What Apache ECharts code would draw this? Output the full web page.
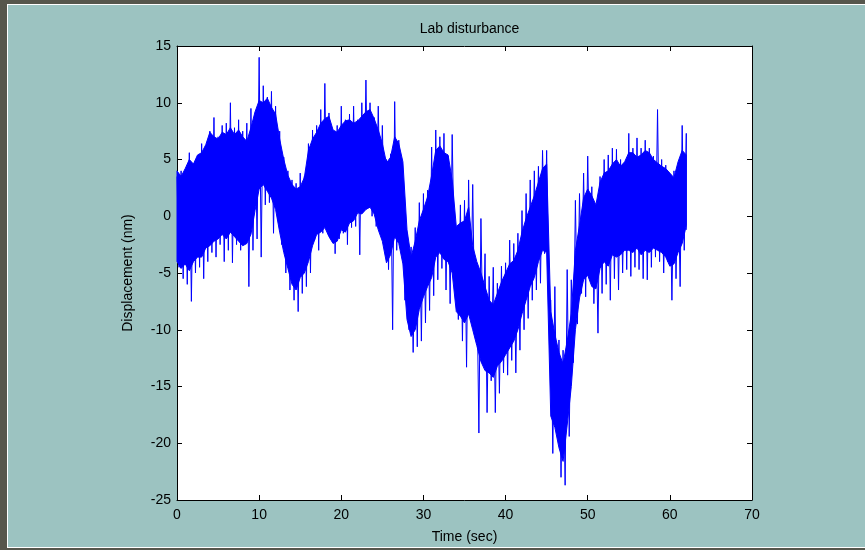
<!DOCTYPE html>
<html><head><meta charset="utf-8">
<script src="https://cdn.jsdelivr.net/npm/echarts@6/dist/echarts.min.js"></script>
<style>
body{margin:0;background:#56564c;}
#c{position:absolute;left:0;top:0;width:865px;height:550px;background:#9cc3c1;}
.f{position:absolute;z-index:5;}
</style></head><body>
<div id="c"></div>
<div class="f" style="left:0;top:0;width:865px;height:4px;background:#56564c"></div>
<div class="f" style="left:7px;top:4px;width:858px;height:1px;background:#ffffff"></div>
<div class="f" style="left:0;top:0;width:7px;height:550px;background:#56564c"></div>
<div class="f" style="left:7px;top:4px;width:1px;height:544px;background:#ffffff"></div>
<div class="f" style="left:7px;top:547px;width:858px;height:1px;background:#ffffff"></div>
<div class="f" style="left:0;top:548px;width:865px;height:2px;background:#56564c"></div>
<script>
const title = 'Lab disturbance';
const xName = 'Time (sec)';
const yName = 'Displacement (nm)';
const xTicks = [0,10,20,30,40,50,60,70];
const yTicks = [-25,-20,-15,-10,-5,0,5,10,15];
// sample times (sec)
const times = [0,0.5,1,1.5,2,2.5,3,3.5,4,4.5,5,5.5,6,6.5,7,7.5,8,8.5,9,9.5,10,10.5,11,11.5,12,12.5,13,13.5,14,14.5,15,15.5,16,16.5,17,17.5,18,18.5,19,19.5,20,20.5,21,21.5,22,22.5,23,23.5,24,24.5,25,25.5,26,26.5,27,27.5,28,28.5,29,29.5,30,30.5,31,31.5,32,32.5,33,33.5,34,34.5,35,35.5,36,36.5,37,37.5,38,38.5,39,39.5,40,40.5,41,41.5,42,42.5,43,43.5,44,44.5,45,45.5,46,46.5,47,47.5,48,48.5,49,49.5,50,50.5,51,51.5,52,52.5,53,53.5,54,54.5,55,55.5,56,56.5,57,57.5,58,58.5,59,59.5,60,60.5,61,61.5,62];
// outer spikes: highest / lowest swing near each time
const upper = [3.5,4.0,3.2,5.6,4.5,5.0,6.4,5.5,7.5,8.7,7.0,8.0,8.2,10.0,7.8,8.5,7.5,8.2,9.5,8.0,14.0,11.5,10.5,11.0,9.7,7.5,5.2,4.0,3.2,2.9,3.8,3.5,6.4,7.6,8.0,9.4,11.7,9.1,7.0,8.0,9.7,8.5,9.0,9.7,8.5,10.0,12.0,10.0,8.7,9.7,8.0,5.0,5.5,10.1,6.7,0.8,-1.5,-2.7,-1.0,1.2,2.0,2.3,6.1,7.6,7.0,7.3,5.3,7.2,-1.5,1.0,1.4,3.2,2.8,-5.0,-0.2,-3.3,-5.3,-4.5,-5.9,-4.4,-4.1,-2.1,-2.4,-1.5,0.5,2.0,3.2,4.0,4.4,5.8,5.8,-7.4,-6.2,-10.9,-11.8,-4.7,-5.6,1.4,2.0,3.8,5.3,2.6,0.0,3.5,5.0,5.4,6.0,5.9,5.0,4.7,7.3,6.0,6.9,6.0,6.7,6.0,5.3,9.4,5.0,4.5,3.2,4.0,3.8,8.0,7.3];
const lower = [-4.5,-5.5,-6.0,-7.5,-5.0,-4.5,-5.5,-4.0,-3.2,-3.6,-2.5,-4.0,-3.0,-4.1,-2.5,-3.0,-2.0,-6.2,-3.0,-2.0,-3.6,1.0,1.2,-1.5,-0.3,-2.5,-5.0,-6.5,-7.4,-8.4,-6.8,-6.2,-5.0,-2.1,-3.0,-1.5,-0.9,-2.0,-3.3,-2.0,-1.5,-2.5,-1.0,-0.9,-3.4,0.5,0.8,0.0,-0.9,0.3,-1.0,-4.7,-10.0,-3.0,-2.1,-7.4,-10.0,-12.0,-11.5,-11.0,-9.4,-8.3,-7.0,-5.6,-4.6,-6.5,-7.7,-3.3,-9.1,-11.0,-13.3,-8.9,-10.0,-19.1,-11.2,-17.3,-14.5,-17.3,-15.6,-13.8,-14.0,-12.7,-13.8,-11.8,-10.0,-9.0,-7.4,-6.5,-5.9,-3.3,-7.0,-20.9,-19.1,-23.0,-23.7,-19.4,-12.9,-9.5,-6.8,-7.1,-4.7,-7.7,-10.3,-6.8,-6.0,-7.4,-5.5,-6.5,-5.0,-4.7,-5.3,-4.5,-4.7,-5.5,-5.6,-4.5,-3.6,-4.0,-5.0,-4.0,-7.4,-5.5,-6.2,-3.0,-1.2];
// dense solid core of the signal: its top and bottom edge near each time
const coreTop = [4.0,3.5,4.2,5.0,4.6,5.4,5.6,6.3,7.4,7.0,6.8,7.4,7.2,7.8,7.2,7.6,7.0,6.6,7.8,9.2,10.2,10.0,10.4,9.6,9.0,6.8,5.0,3.6,2.8,2.4,2.6,3.4,5.8,6.8,7.4,8.2,8.6,8.8,7.6,7.4,8.0,8.4,8.5,8.2,8.4,8.8,9.2,9.4,8.6,7.6,6.4,4.7,5.2,7.0,6.4,4.8,-1.2,-3.6,-2.2,-0.4,0.6,1.7,3.6,5.8,6.2,5.6,5.4,3.2,-0.9,-0.6,-0.4,0.8,-2.6,-4.0,-5.0,-6.2,-7.4,-7.8,-6.8,-5.8,-5.0,-4.2,-3.9,-3.0,-1.4,-0.2,0.8,1.8,3.0,4.2,4.6,-8.4,-10.4,-12.0,-13.0,-11.0,-8.6,-3.0,-0.8,1.6,2.4,1.8,1.0,3.0,3.8,4.0,4.6,5.0,4.4,4.8,5.6,5.6,5.2,5.4,5.8,5.6,5.0,4.7,4.4,4.2,3.8,3.4,4.8,5.8,5.4];
const coreBottom = [-4.0,-4.6,-4.2,-4.8,-4.0,-3.6,-3.6,-2.8,-2.6,-2.2,-2.0,-1.6,-2.0,-1.4,-1.8,-2.2,-2.6,-2.4,-1.6,0.5,2.4,2.8,2.2,1.6,0.6,-1.4,-3.2,-4.6,-6.0,-6.5,-5.4,-5.0,-4.0,-2.6,-1.6,-1.4,-1.0,-1.8,-2.4,-2.2,-1.2,-1.4,-0.6,-0.4,0.3,0.2,0.6,0.8,0.2,-1.2,-2.2,-4.1,-3.4,-1.8,-2.4,-4.2,-9.1,-10.6,-10.0,-8.2,-7.1,-6.2,-5.4,-3.6,-3.2,-3.8,-4.0,-5.0,-8.4,-8.8,-9.4,-8.6,-10.0,-11.4,-12.8,-13.6,-13.8,-14.2,-13.2,-12.8,-12.2,-11.6,-11.0,-10.0,-8.6,-7.4,-6.2,-5.4,-4.0,-3.0,-3.2,-17.6,-18.6,-20.4,-21.6,-18.4,-15.0,-10.0,-7.2,-5.6,-5.2,-6.2,-6.4,-4.6,-4.0,-4.4,-3.4,-3.6,-3.4,-3.0,-3.0,-3.2,-2.8,-3.4,-3.0,-3.2,-2.8,-3.0,-3.2,-3.6,-4.4,-4.2,-3.2,-2.4,-0.8];

const spikes = [];
for (let i = 0; i < times.length; i++) {
  spikes.push([times[i], upper[i]]);
  if (i < times.length - 1) spikes.push([times[i] + 0.25, lower[i]]);
  else spikes.push([times[i], lower[i]]);
}
const core = times.map((t, i) => [t, coreTop[i], coreBottom[i]]);

const font = 'Liberation Sans, Arial, sans-serif';
const chart = echarts.init(document.getElementById('c'));
function axisBase() {
  return {
    axisLine: {show: true, onZero: false, lineStyle: {color: '#000', width: 1}},
    axisTick: {show: true, inside: true, length: 5, lineStyle: {color: '#000'}},
    splitLine: {show: false}
  };
}
chart.setOption({
  animation: false,
  backgroundColor: 'transparent',
  title: {text: title, left: 464.5, textAlign: 'center', top: 17,
    textStyle: {fontFamily: font, fontSize: 14, fontWeight: 'normal', color: '#000'}},
  grid: {left: 177, right: 113, top: 46, bottom: 50},
  xAxis: [
    Object.assign({type: 'value', min: xTicks[0], max: xTicks[xTicks.length-1], interval: 10,
      name: xName, nameLocation: 'middle', nameGap: 30,
      nameTextStyle: {fontFamily: font, fontSize: 14, color: '#000'},
      axisLabel: {fontFamily: font, fontSize: 14, color: '#000', margin: 8}}, axisBase()),
    Object.assign({type: 'value', position: 'top', min: xTicks[0], max: xTicks[xTicks.length-1], interval: 10,
      axisLabel: {show: false}}, axisBase())
  ],
  yAxis: [
    Object.assign({type: 'value', min: yTicks[0], max: yTicks[yTicks.length-1], interval: 5,
      name: yName, nameLocation: 'middle', nameGap: 42,
      nameTextStyle: {fontFamily: font, fontSize: 14, color: '#000'},
      axisLabel: {fontFamily: font, fontSize: 14, color: '#000', margin: 6}}, axisBase()),
    Object.assign({type: 'value', position: 'right', min: yTicks[0], max: yTicks[yTicks.length-1], interval: 5,
      axisLabel: {show: false}}, axisBase())
  ],
  graphic: [{type: 'rect', z: -1, shape: {x: 177, y: 46, width: 575, height: 454}, style: {fill: '#fff'}}],
  series: [
    {type: 'custom', data: [core[0]], z: 3, encode: {x: 0, y: 1},
      renderItem: function (params, api) {
        const pts = [];
        for (let i = 0; i < core.length; i++) pts.push(api.coord([core[i][0], core[i][1]]));
        for (let i = core.length - 1; i >= 0; i--) pts.push(api.coord([core[i][0], core[i][2]]));
        return {type: 'polygon', shape: {points: pts}, style: {fill: '#0000ff', stroke: '#0000ff', lineWidth: 1}};
      }},
    {type: 'line', data: spikes, showSymbol: false, symbol: 'none', sampling: false, z: 2,
      lineStyle: {color: '#0000ff', width: 1}, itemStyle: {color: '#0000ff'}}
  ]
});
</script>
</body></html>
